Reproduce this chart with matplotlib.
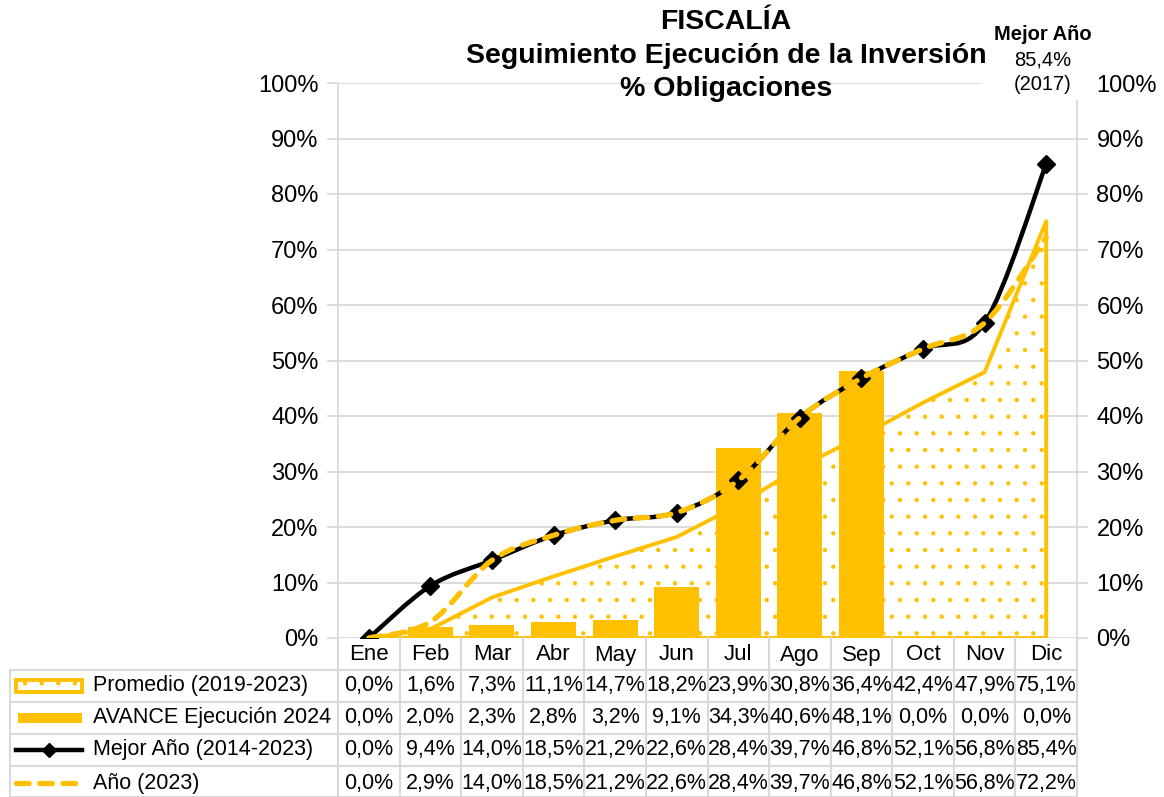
import numpy as np
import matplotlib
matplotlib.use("Agg")
import matplotlib.pyplot as plt
from matplotlib.path import Path
from matplotlib.patches import PathPatch, Rectangle
from matplotlib.lines import Line2D
from matplotlib import transforms

meses = ['Ene', 'Feb', 'Mar', 'Abr', 'May', 'Jun', 'Jul', 'Ago', 'Sep', 'Oct', 'Nov', 'Dic']
promedio = [0.0, 1.6, 7.3, 11.1, 14.7, 18.2, 23.9, 30.8, 36.4, 42.4, 47.9, 75.1]
avance = [0.0, 2.0, 2.3, 2.8, 3.2, 9.1, 34.3, 40.6, 48.1, 0.0, 0.0, 0.0]
mejor = [0.0, 9.4, 14.0, 18.5, 21.2, 22.6, 28.4, 39.7, 46.8, 52.1, 56.8, 85.4]
anio2023 = [0.0, 2.9, 14.0, 18.5, 21.2, 22.6, 28.4, 39.7, 46.8, 52.1, 56.8, 72.2]
series_names = ['Promedio (2019-2023)', 'AVANCE Ejecución 2024',
                'Mejor Año (2014-2023)', 'Año (2023)']
yticks = list(range(0, 101, 10))

YEL = '#FFC000'
GRID = '#D9D9D9'
W, H = 1164, 797

plt.rcParams['font.family'] = ['Liberation Sans', 'DejaVu Sans']
plt.rcParams['hatch.color'] = YEL
plt.rcParams['hatch.linewidth'] = 0.7


def fx(px):
    return px / W


def fy(py):
    return 1 - py / H


def smooth_path(xs, ys):
    # excel-like smoothed line (bezier through the points)
    pts = np.column_stack([xs, ys]).astype(float)
    n = len(pts)
    verts = [pts[0]]
    codes = [Path.MOVETO]
    for i in range(n - 1):
        p0 = pts[i - 1] if i > 0 else pts[i]
        p1 = pts[i]
        p2 = pts[i + 1]
        p3 = pts[i + 2] if i + 2 < n else pts[i + 1]
        verts += [p1 + (p2 - p0) / 6, p2 - (p3 - p1) / 6, p2]
        codes += [Path.CURVE4] * 3
    return Path(verts, codes)


fig = plt.figure(figsize=(W / 100, H / 100), dpi=100)
ax = fig.add_axes([fx(338), fy(638), fx(1077) - fx(338), fy(83) - fy(638)])

x = np.arange(len(meses))
ax.set_xlim(-0.5, 11.5)
ax.set_ylim(0, 100)

# promedio: dotted area
ax.fill_between(x, promedio, 0, facecolor='white', edgecolor=YEL,
                hatch='.', linewidth=2.8, zorder=2)

# avance bars
ax.bar(x, avance, width=0.73, color=YEL, zorder=3)

# mejor año
ax.add_patch(PathPatch(smooth_path(x, mejor), facecolor='none', edgecolor='black',
                       linewidth=3.2, zorder=4))
ax.plot(x, mejor, linestyle='none', marker='D', markersize=9, color='black', zorder=5)

# año 2023
ax.add_patch(PathPatch(smooth_path(x, anio2023), facecolor='none', edgecolor=YEL,
                       linewidth=3.8, linestyle=(0, (2.4, 2.0)), capstyle='round',
                       zorder=6))

ax.set_yticks(yticks)
ax.set_yticklabels([f'{t}%' for t in yticks])
ax.set_xticks([])
ax.tick_params(axis='y', left=True, right=True, labelleft=True, labelright=True,
               length=8, width=1.3, color=GRID, labelsize=17, pad=6)
ax.yaxis.grid(True, color=GRID, linewidth=1.3)
ax.set_axisbelow(True)
for s in ['top', 'bottom']:
    ax.spines[s].set_visible(False)
for s in ['left', 'right']:
    ax.spines[s].set_color(GRID)
    ax.spines[s].set_linewidth(1.3)

# table under the chart
trans = transforms.blended_transform_factory(ax.transData, fig.transFigure)
row_tops = [638, 670, 702, 734, 766, 797]
for yb in row_tops[1:]:
    fig.add_artist(Line2D([fx(10), fx(1077)], [fy(yb), fy(yb)], color=GRID,
                          linewidth=1.5, transform=fig.transFigure))
fig.add_artist(Line2D([fx(10), fx(10)], [fy(670), fy(797)], color=GRID,
                      linewidth=1.5, transform=fig.transFigure))
for k in range(len(meses) + 1):
    ax.add_artist(Line2D([k - 0.5, k - 0.5], [fy(638), fy(797)], color=GRID,
                         linewidth=1.5, transform=trans, clip_on=False))

for i, m in enumerate(meses):
    ax.text(i, fy(655), m, transform=trans, ha='center', va='center', fontsize=16)

rows = [promedio, avance, mejor, anio2023]
row_y = [686, 718, 750, 783]
for vals, yc, name in zip(rows, row_y, series_names):
    for i, v in enumerate(vals):
        ax.text(i, fy(yc), f'{v:.1f}%'.replace('.', ','), transform=trans,
                ha='center', va='center', fontsize=15.5)
    fig.text(fx(93), fy(yc), name, ha='left', va='center', fontsize=15.5)

# legend keys
fig.add_artist(Rectangle((fx(16), fy(692)), fx(82) - fx(16), fy(680) - fy(692),
                         facecolor='white', edgecolor=YEL, linewidth=2.8, hatch='.',
                         transform=fig.transFigure))
fig.add_artist(Rectangle((fx(18), fy(723)), fx(82) - fx(18), fy(713) - fy(723),
                         facecolor=YEL, edgecolor='none', transform=fig.transFigure))
fig.add_artist(Line2D([fx(16), fx(82)], [fy(750), fy(750)], color='black',
                      linewidth=3.2, transform=fig.transFigure))
fig.add_artist(Line2D([fx(49)], [fy(750)], color='black', marker='D', markersize=7,
                      linestyle='none', transform=fig.transFigure))
fig.add_artist(Line2D([fx(16), fx(82)], [fy(783), fy(783)], color=YEL,
                      linewidth=3.8, linestyle=(0, (2.4, 2.0)),
                      dash_capstyle='round', transform=fig.transFigure))

# titles
fig.text(fx(726), fy(22), 'FISCALÍA', ha='center', va='center',
         fontsize=20.5, fontweight='bold')
fig.text(fx(726), fy(56), 'Seguimiento Ejecución de la Inversión', ha='center',
         va='center', fontsize=20.5, fontweight='bold')
fig.text(fx(726), fy(89), '% Obligaciones', ha='center', va='center',
         fontsize=20.5, fontweight='bold')

# mejor año note
fig.add_artist(Rectangle((fx(982), fy(100)), fx(1090) - fx(982), fy(15) - fy(100),
                         facecolor='white', edgecolor='none', zorder=2,
                         transform=fig.transFigure))
fig.text(fx(1043), fy(34), 'Mejor Año', ha='center', va='center', fontsize=14.5,
         fontweight='bold', zorder=3)
fig.text(fx(1043), fy(60), '85,4%', ha='center', va='center', fontsize=14.5, zorder=3)
fig.text(fx(1043), fy(85), '(2017)', ha='center', va='center', fontsize=14.5, zorder=3)

fig.savefig('out.png', dpi=100, facecolor='white')
